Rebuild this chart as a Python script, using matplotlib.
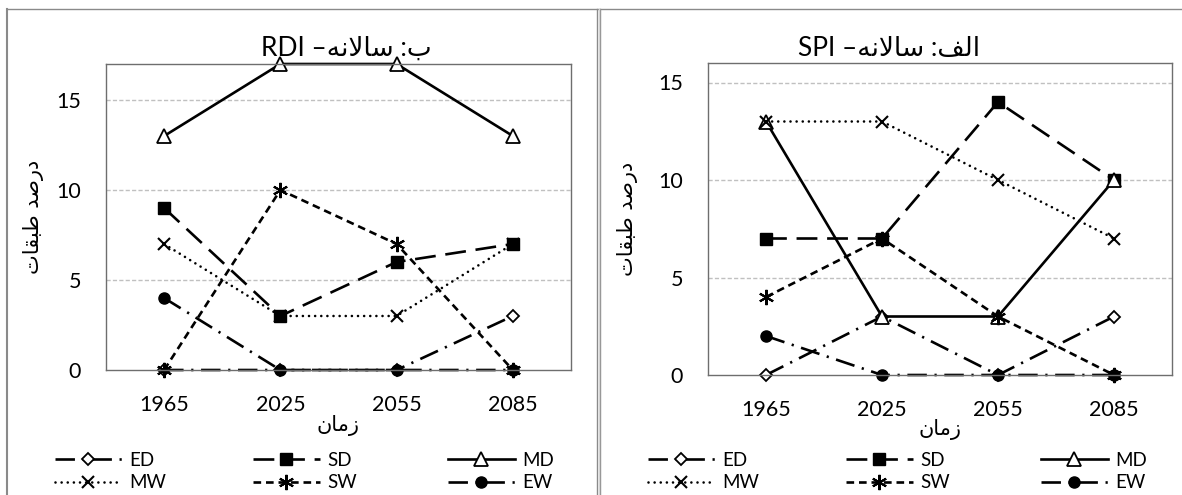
import matplotlib
matplotlib.use('Agg')
import matplotlib.pyplot as plt
from matplotlib.lines import Line2D
import numpy as np

# ---------------- data ----------------
years = ['1965', '2025', '2055', '2085']
series_names = ['ED', 'SD', 'MD', 'MW', 'SW', 'EW']

# RDI (left panel)
rdi_ED = [0, 0, 0, 3]
rdi_SD = [9, 3, 6, 7]
rdi_MD = [13, 17, 17, 13]
rdi_MW = [7, 3, 3, 7]
rdi_SW = [0, 10, 7, 0]
rdi_EW = [4, 0, 0, 0]

# SPI (right panel)
spi_ED = [0, 3, 0, 3]
spi_SD = [7, 7, 14, 10]
spi_MD = [13, 3, 3, 10]
spi_MW = [13, 13, 10, 7]
spi_SW = [4, 7, 3, 0]
spi_EW = [2, 0, 0, 0]

yticks = [0, 5, 10, 15]

# Persian texts (presentation forms, visual order)
SALANEH = '\uFEEA\uFEE7\uFEFB\uFE8E\uFEB3'
title_left = 'RDI \u2013' + SALANEH + ' :' + '\uFE8F'
title_right = 'SPI \u2013' + SALANEH + ' :' + '\uFED2\uFEDF\uFE8D'
ylabel_text = '\uFE95\uFE8E\uFED8\uFE92\uFEC3 \uFEAA\uFEBB\uFEAD\uFEA9'
xlabel_text = '\uFEE5\uFE8E\uFEE3\uFEAF'

# ---------------- style ----------------
plt.rcParams['lines.scale_dashes'] = False
plt.rcParams['font.family'] = ['Lato', 'DejaVu Sans']

W, H = 1182, 495
fig = plt.figure(figsize=(W / 100, H / 100), dpi=100)


def fx(px):
    return px / W


def fy(py):
    return 1 - py / H


LW = 1.9
styles = {
    'ED': dict(marker='D', ms=6.3, mfc='white', mec='black', mew=1.3,
               dashes=(14, 5.5, 1.6, 5.5)),
    'SD': dict(marker='s', ms=8, mfc='black', mec='black', mew=1.0,
               dashes=(15, 7)),
    'MD': dict(marker='^', ms=9.5, mfc='white', mec='black', mew=1.3,
               linestyle='-'),
    'MW': dict(marker='x', ms=8, mec='black', mew=1.5,
               dashes=(0.01, 4.4), dash_capstyle='round'),
    'SW': dict(marker=(6, 2, 0), ms=11, mec='black', mew=1.5,
               dashes=(5.5, 3.5)),
    'EW': dict(marker='o', ms=8, mfc='black', mec='black', mew=1.0,
               dashes=(14, 5.5, 1.6, 5.5)),
}


def make_panel(rect, data, ylim, chart_x0, title, title_x, title_y):
    x0, y0, x1, y1 = rect
    ax = fig.add_axes([fx(x0), fy(y1), (x1 - x0) / W, (y1 - y0) / H])
    handles = {}
    for name in series_names:
        ln, = ax.plot(years, data[name], color='black', lw=LW,
                      label=name, clip_on=False, **styles[name])
        handles[name] = ln
    ax.set_xlim(-0.5, 3.5)
    ax.set_ylim(*ylim)
    ax.set_yticks(yticks)
    for yv in yticks[1:]:
        ax.axhline(yv, color='#c0c0c0', lw=1.0, dashes=(3, 1.6), zorder=0)
    for sp in ax.spines.values():
        sp.set_color('#6e6e6e')
        sp.set_linewidth(1.0)
    ax.tick_params(axis='both', length=0, labelsize=15.5, colors='black')
    ax.tick_params(axis='y', pad=18)
    ax.tick_params(axis='x', pad=18)
    # titles / labels
    fig.text(fx(title_x), fy(title_y), title, ha='center', va='baseline',
             fontsize=19, family=['Lato', 'DejaVu Sans'])
    fig.text(fx(chart_x0 + 27), fy((y0 + y1) / 2), ylabel_text,
             rotation=90, ha='center', va='center', fontsize=15,
             family=['DejaVu Sans'])
    fig.text(fx((x0 + x1) / 2), fy(y1 + 55), xlabel_text, ha='center',
             va='center', fontsize=15, family=['DejaVu Sans'])
    # legend: three columns of two entries
    cols = [['ED', 'MW'], ['SD', 'SW'], ['MD', 'EW']]
    offs = [48, 246, 441]
    for c, off in zip(cols, offs):
        fig.legend([handles[n] for n in c], c, loc='center left',
                   bbox_to_anchor=(fx(chart_x0 + off), fy(471.5)),
                   bbox_transform=fig.transFigure, frameon=False,
                   fontsize=13.5, handlelength=3.55, handletextpad=0.42,
                   labelspacing=0.32, borderpad=0, borderaxespad=0,
                   numpoints=1)
    return ax


rdi = dict(ED=rdi_ED, SD=rdi_SD, MD=rdi_MD, MW=rdi_MW, SW=rdi_SW, EW=rdi_EW)
spi = dict(ED=spi_ED, SD=spi_SD, MD=spi_MD, MW=spi_MW, SW=spi_SW, EW=spi_EW)

make_panel((106, 64, 571, 370), rdi, (0, 17), 7, title_left, 346, 56)
make_panel((708, 63, 1172, 375), spi, (0, 16), 600, title_right, 889, 56)

# chart area borders
bc = '#8a8a8a'
fig.add_artist(Line2D([fx(7), fx(7)], [fy(9), fy(500)], transform=fig.transFigure,
                      color=bc, lw=1.5))
fig.add_artist(Line2D([fx(7), fx(1185)], [fy(9), fy(9)], transform=fig.transFigure,
                      color=bc, lw=1.0))
fig.add_artist(Line2D([fx(597), fx(597)], [fy(9), fy(500)], transform=fig.transFigure,
                      color=bc, lw=1.0))
fig.add_artist(Line2D([fx(600), fx(600)], [fy(9), fy(500)], transform=fig.transFigure,
                      color=bc, lw=1.0))
fig.add_artist(Line2D([fx(598.5), fx(598.5)], [fy(9), fy(500)],
                      transform=fig.transFigure, color='#d4d4d4', lw=1.0))

fig.savefig('out.png', dpi=100)
